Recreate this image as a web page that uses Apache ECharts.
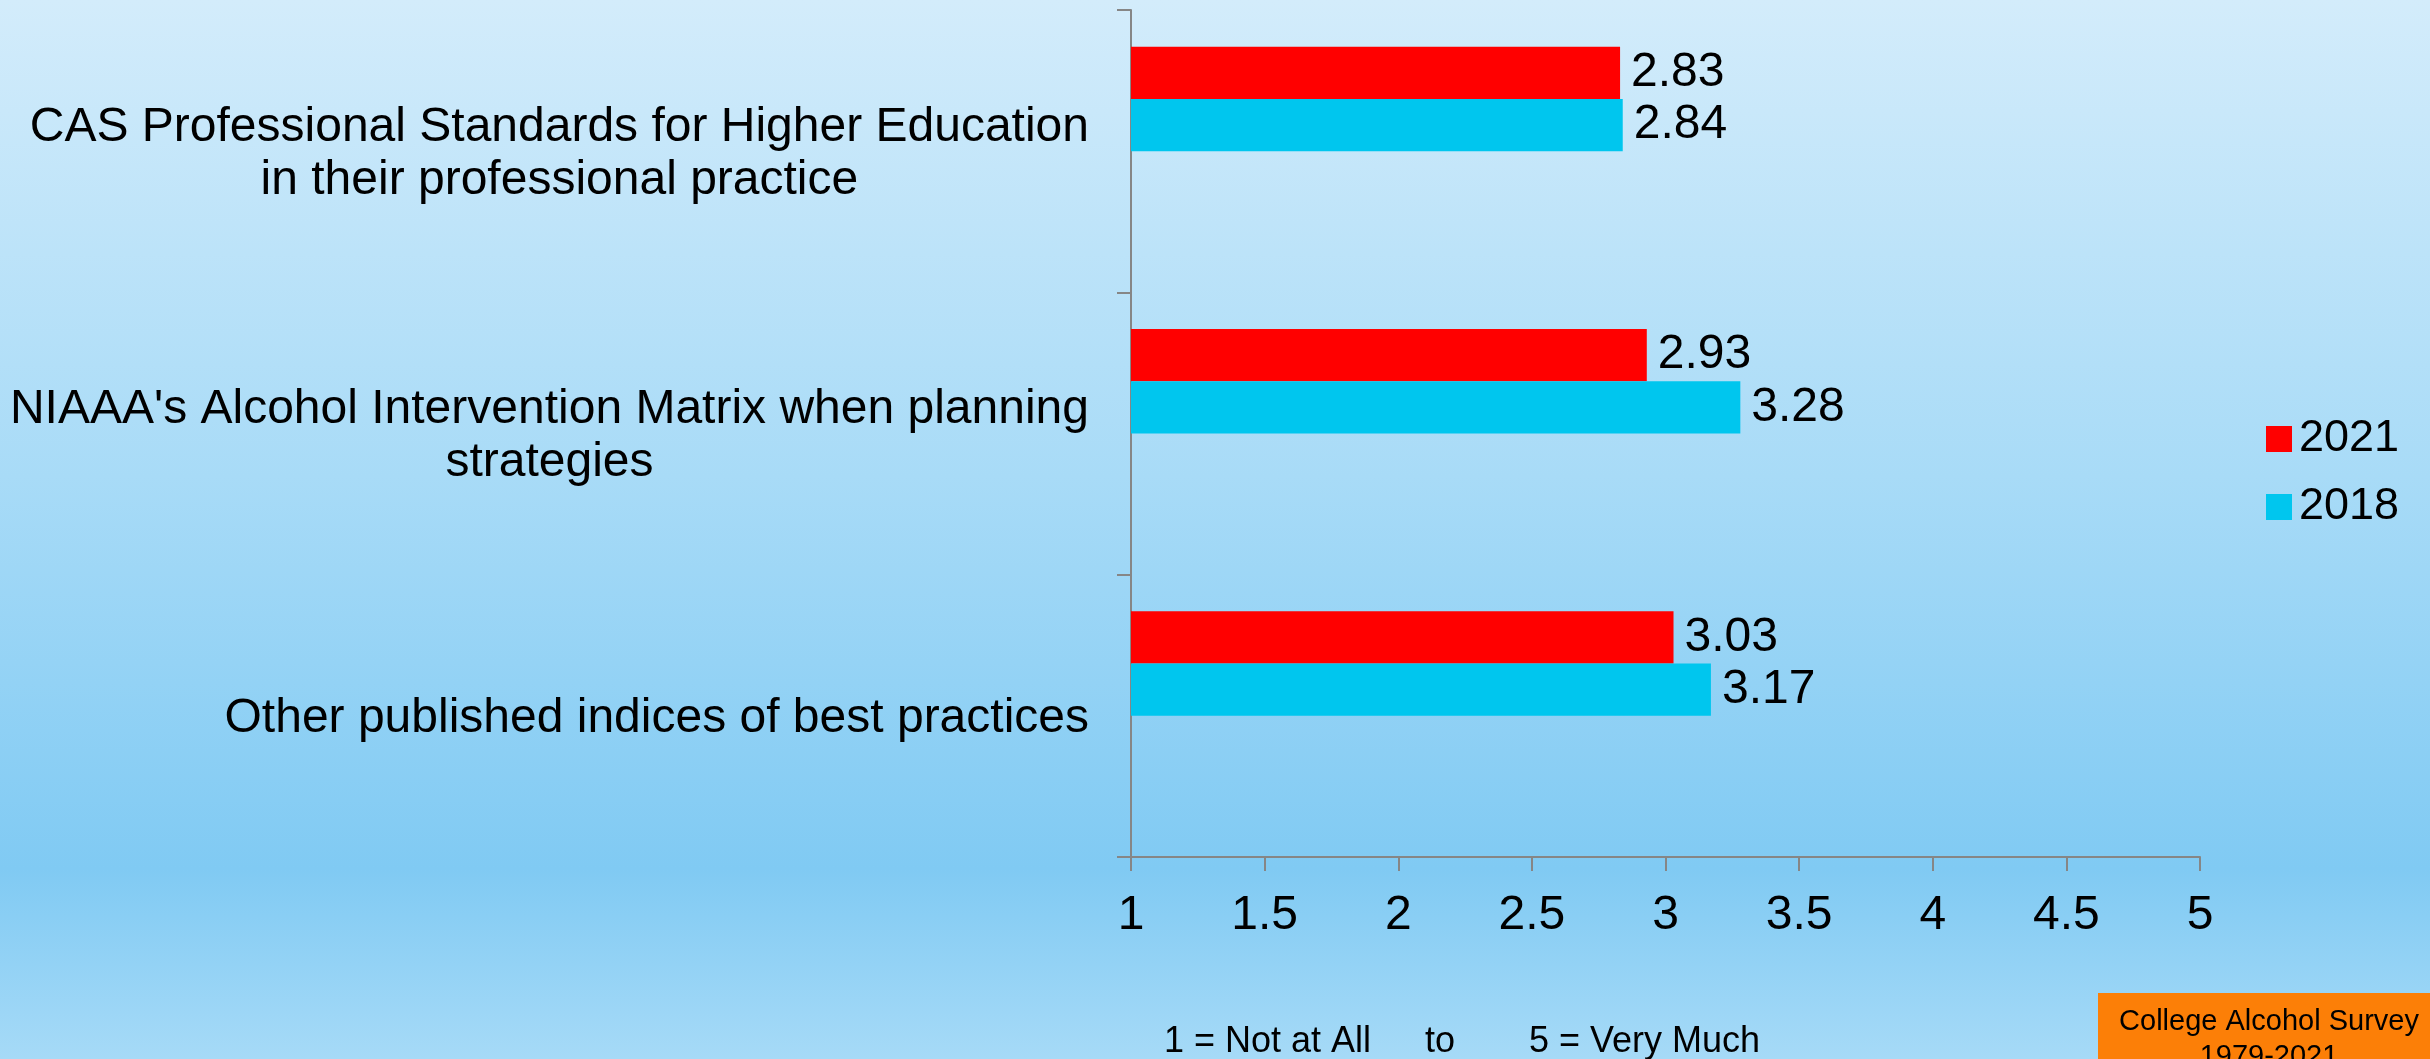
<!DOCTYPE html>
<html>
<head>
<meta charset="utf-8">
<script src="https://cdn.jsdelivr.net/npm/echarts@6/dist/echarts.min.js"></script>
<style>
html,body{margin:0;padding:0;}
#chart{width:2430px;height:1059px;background:linear-gradient(to bottom,#D3ECFB 0%,#A8DBF7 45%,#80CAF3 82%,#A6DAF7 100%);}
</style>
</head>
<body>
<div id="chart"></div>
<script>
const categories = [
  "CAS Professional Standards for Higher Education\nin their professional practice",
  "NIAAA's Alcohol Intervention Matrix when planning\nstrategies",
  "Other published indices of best practices"
];
const seriesNames = ["2021", "2018"];
const values2021 = [2.83, 2.93, 3.03];
const values2018 = [2.84, 3.28, 3.17];
const emptySlot = ["-", "-", "-"];
const xTicks = [1, 1.5, 2, 2.5, 3, 3.5, 4, 4.5, 5];
const scaleNote = ["1 = Not at All", "to", "5 = Very Much"];
const sourceNote = "College Alcohol Survey\n1979-2021";

const FONT = '"Liberation Sans", Arial, sans-serif';
const chart = echarts.init(document.getElementById('chart'), null, {renderer: 'canvas'});

const labelStyle = {
  show: true, position: 'right', distance: 11,
  fontFamily: FONT, fontSize: 48, color: '#000'
};

const option = {
  animation: false,
  backgroundColor: 'transparent',
  textStyle: {fontFamily: FONT},
  grid: {left: 1131, right: 230, top: 10, bottom: 202, containLabel: false},
  legend: {
    orient: 'vertical', left: 2261, top: 411,
    data: seriesNames, icon: 'rect', itemWidth: 26, itemHeight: 26,
    itemGap: 22,
    textStyle: {fontFamily: FONT, fontSize: 45, color: '#000', lineHeight: 46, padding: [0,0,0,2]},
    selectedMode: false
  },
  xAxis: {
    type: 'value', min: xTicks[0], max: xTicks[xTicks.length-1], interval: 0.5, startValue: 1,
    axisLine: {show: true, lineStyle: {color: '#868686', width: 2}},
    axisTick: {show: true, length: 14, lineStyle: {color: '#868686', width: 2}},
    splitLine: {show: false},
    axisLabel: {fontFamily: FONT, fontSize: 48, color: '#000', margin: 35,
      formatter: v => String(v)}
  },
  yAxis: {
    type: 'category', inverse: true, data: categories,
    axisLine: {show: true, lineStyle: {color: '#868686', width: 2}},
    axisTick: {show: true, length: 14, lineStyle: {color: '#868686', width: 2}},
    axisLabel: {
      margin: 42, fontFamily: FONT, fontSize: 48, color: '#000', lineHeight: 53,
      padding: [6, 0, 0, 0],
      formatter: v => v.split('\n').map(l => '{c|' + l + '}').join('\n'),
      rich: {c: {align: 'center', fontFamily: FONT, fontSize: 48, color: '#000', lineHeight: 53}}
    }
  },
  series: [
    {name: seriesNames[0], type: 'bar', data: values2021, itemStyle: {color: '#FF0000'},
     barGap: '0%', barCategoryGap: '26%', clip: true, label: labelStyle},
    {name: seriesNames[1], type: 'bar', data: values2018, itemStyle: {color: '#00C6EE'},
     barGap: '0%', barCategoryGap: '26%', clip: true, label: labelStyle},
    {name: 'slot3', type: 'bar', data: emptySlot, barGap: '0%', barCategoryGap: '26%'},
    {name: 'slot4', type: 'bar', data: emptySlot, barGap: '0%', barCategoryGap: '26%'}
  ],
  graphic: [
    {type: 'text', left: 1164, top: 1024, style: {text: scaleNote[0], font: '36px ' + FONT, fill: '#000'}},
    {type: 'text', left: 1425, top: 1024, style: {text: scaleNote[1], font: '36px ' + FONT, fill: '#000'}},
    {type: 'text', left: 1529, top: 1024, style: {text: scaleNote[2], font: '36px ' + FONT, fill: '#000'}},
    {type: 'rect', left: 2098, top: 993, shape: {width: 342, height: 80}, style: {fill: '#FC7F07'}},
    {type: 'text', x: 2269, y: 1004, style: {text: sourceNote, font: '29px ' + FONT, fill: '#000',
      textAlign: 'center', textVerticalAlign: 'top', lineHeight: 35}}
  ]
};
chart.setOption(option);
</script>
</body>
</html>
